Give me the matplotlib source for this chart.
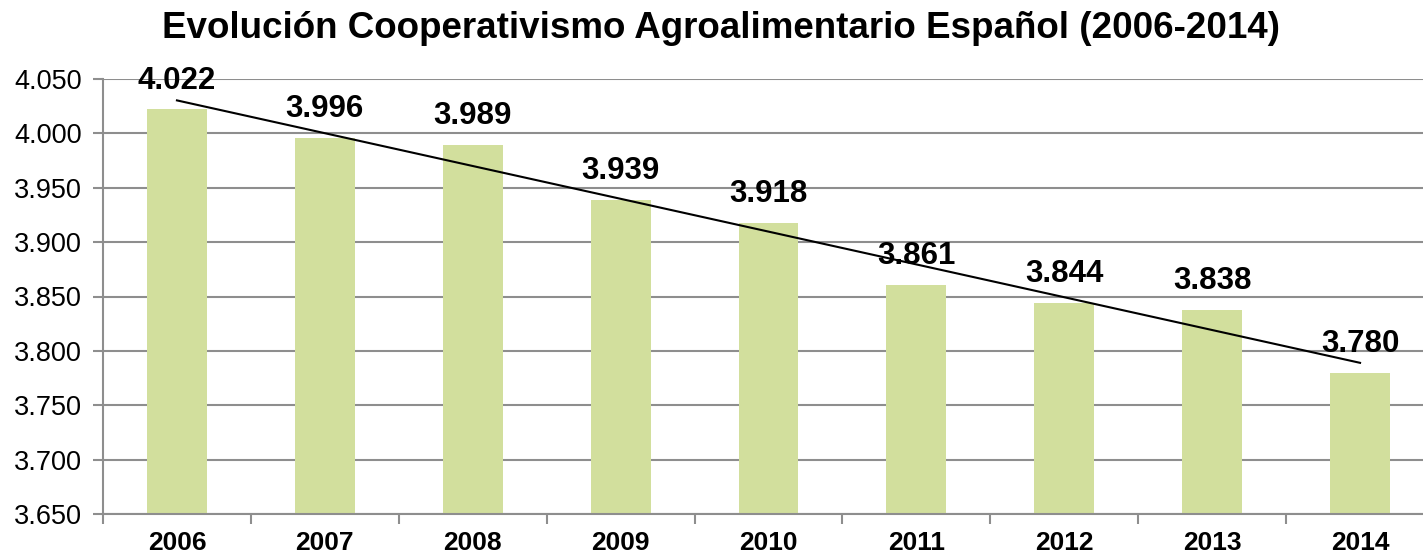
import numpy as np
import matplotlib.pyplot as plt
from matplotlib.ticker import FuncFormatter, MultipleLocator, FixedLocator

plt.rcParams['font.family'] = ['Liberation Sans', 'DejaVu Sans']

# Data
years = ['2006', '2007', '2008', '2009', '2010', '2011', '2012', '2013', '2014']
cooperativas = [4022, 3996, 3989, 3939, 3918, 3861, 3844, 3838, 3780]

x = np.arange(len(years))
vals = np.array(cooperativas) / 1000.0

# Linear trend line
slope, intercept = np.polyfit(x, vals, 1)
trend = slope * x + intercept

fig = plt.figure(figsize=(14.23, 5.53), dpi=100)
ax = fig.add_axes([103 / 1423, 39 / 553, 1331 / 1423, 435 / 553])

ax.bar(x, vals, width=0.405, color='#D2DF9D', zorder=2)
ax.plot(x, trend, color='black', linewidth=1.5, zorder=3)

for xi, v, c in zip(x, vals, cooperativas):
    lbl = f'{c:,}'.replace(',', '.')
    ax.annotate(lbl, (xi, v), xytext=(0, 10), textcoords='offset points',
                ha='center', va='bottom', fontsize=22.5, fontweight='bold', zorder=4)

ax.set_ylim(3.65, 4.05)
ax.set_xlim(-0.5, 8.5)
ax.yaxis.set_major_locator(MultipleLocator(0.05))
ax.yaxis.set_major_formatter(FuncFormatter(lambda v, p: f'{v:.3f}'))
ax.grid(axis='y', color='#8E8E8E', linewidth=1.5, zorder=0)
ax.set_axisbelow(True)

ax.set_xticks(x)
ax.set_xticklabels(years, fontsize=19, fontweight='bold')
ax.xaxis.set_minor_locator(FixedLocator(np.arange(-0.5, 9, 1)))
ax.tick_params(axis='x', which='major', length=0, pad=12)
ax.tick_params(axis='x', which='minor', length=7, width=1.5, color='#8E8E8E')
ax.tick_params(axis='y', labelsize=19.5, length=7, width=1.5, color='#8E8E8E', pad=8)

for s in ['top', 'right']:
    ax.spines[s].set_visible(False)
for s in ['left', 'bottom']:
    ax.spines[s].set_color('#8E8E8E')
    ax.spines[s].set_linewidth(1.5)

fig.text(0.507, 0.948, 'Evolución Cooperativismo Agroalimentario Español (2006-2014)',
         ha='center', va='center', fontsize=26.5, fontweight='bold')

fig.savefig('out.png', dpi=100)
